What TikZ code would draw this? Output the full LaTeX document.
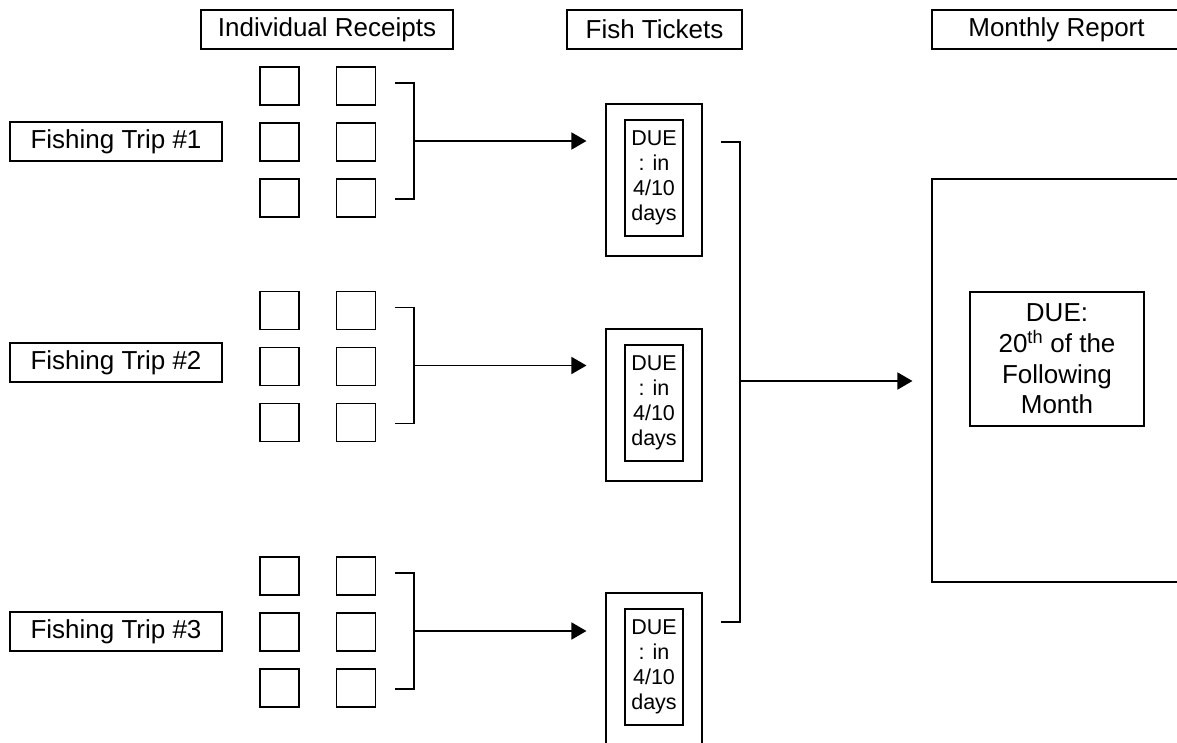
\documentclass[tikz,border=0pt]{standalone}
\usepackage{fontspec}
\setmainfont{Liberation Sans}
\usetikzlibrary{arrows.meta}

\tikzset{
  box/.style={draw, rectangle, inner sep=0pt, line width=1.1pt, align=center},
  titlebox/.style={box, minimum height=39pt, font=\fontsize{26}{31}\selectfont},
  tripbox/.style={titlebox, minimum width=212pt},
  receipt/.style={box, minimum width=39pt, minimum height=38pt},
  ticket/.style={box, minimum width=96pt, minimum height=152pt},
  duebox/.style={box, minimum width=58pt, minimum height=116pt, font=\fontsize{21.5}{25}\selectfont},
  link/.style={line width=1.6pt},
  feed/.style={link, -{Triangle[length=15pt,width=17pt]}, shorten >=19pt},
}

\begin{document}
\begin{tikzpicture}[x=1pt, y=-1pt]
    \useasboundingbox (0,0) rectangle (1177,742);
    \clip (0,0) rectangle (1177,742);

    % column headings
    \node[titlebox, minimum width=252pt] (receipts) at (327,29.5) {Individual Receipts};
    \node[titlebox, minimum width=175pt] (tickets) at (654.5,29.5) {Fish Tickets};
    \node[titlebox, minimum width=249pt] (report) at (1056.5,29.5) {Monthly Report};

    % one row per trip: label, receipts, bracket, fish ticket
    \foreach \n/\ty/\ry/\ky in {1/141.5/142/180, 2/362.5/366.5/405, 3/631.5/632/669} {
        \node[tripbox] (trip\n) at (116,\ty) {Fishing Trip \#\n};
        \foreach \c/\x in {a/279.5, b/356} {
            \foreach \r/\dy in {1/-56, 2/0, 3/56}
                \node[receipt] (rc\n\c\r) at ({\x},{\ry+(\dy)}) {};
        }
        \coordinate (bt\n) at (395,\ry-59);
        \coordinate (bb\n) at (395,\ry+57);
        \coordinate (bm\n) at (414,\ry-1);
        \draw[link] (bt\n) -| (bm\n) |- (bb\n);

        \node[ticket] (tk\n) at (654,\ky) {};
        \node[duebox] (due\n) at (654,\ky-2) {DUE\\: in\\4/10\\days};
        \draw[feed] (bm\n) -- (bm\n -| tk\n.west);
    }

    % tickets gathered into the monthly report
    \node[box, minimum width=250pt, minimum height=403pt] (month) at (1057,380.5) {};
    \node[box, minimum width=174pt, minimum height=134pt,
          font=\fontsize{26}{30.7}\selectfont] (due) at (1057,359)
          {DUE:\\20\textsuperscript{th} of the\\Following\\Month};

    \coordinate (tick1) at (721,142);
    \coordinate (tick3) at (721,622);
    \coordinate (jb) at (740,622);
    \coordinate (jm) at (740,381);
    \draw[link] (tick1) -| (jb) -- (tick3);
    \draw[feed] (jm) -- (jm -| month.west);
\end{tikzpicture}
\end{document}
